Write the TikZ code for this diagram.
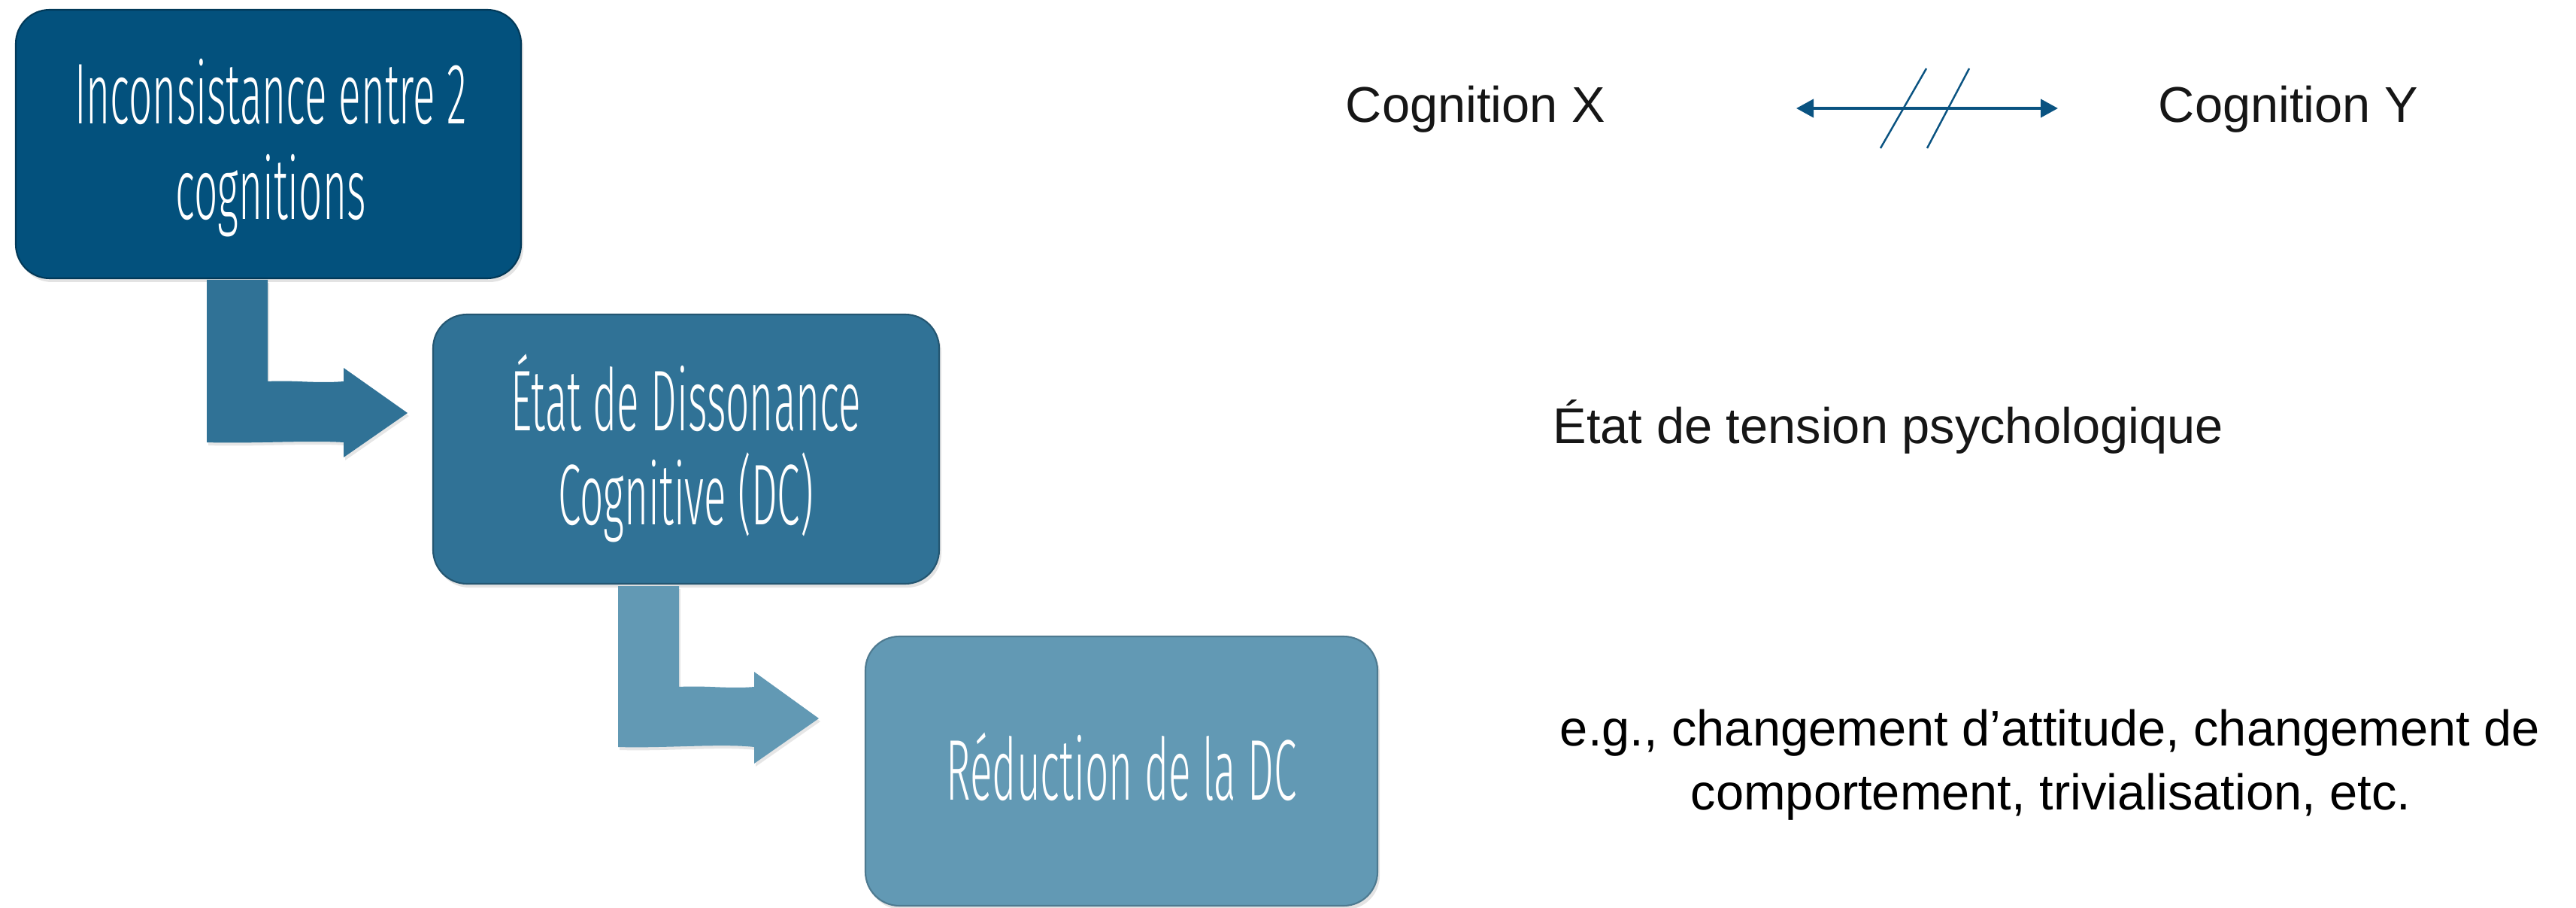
\documentclass[tikz,border=0pt]{standalone}
\usepackage{fontspec}
\setmainfont{Liberation Sans}
\newfontfamily\handfont[FakeStretch=0.48]{Fira Sans Light}
\usetikzlibrary{arrows.meta,shadows,calc}
\definecolor{cA}{HTML}{03517D}
\definecolor{cB}{HTML}{307296}
\definecolor{cC}{HTML}{6299B4}
\definecolor{linkblue}{HTML}{0A5381}
\definecolor{txt}{HTML}{161616}
\tikzset{
  stepbox/.style={rectangle, rounded corners=0.45cm, inner sep=0pt,
    line width=0.6pt, drop shadow={opacity=0.22, shadow xshift=0.03cm, shadow yshift=-0.05cm}},
  hand/.style={font=\handfont\fontsize{32.6}{40}\selectfont, text=white, inner sep=0pt, anchor=base},
  plain/.style={font=\fontsize{19}{23.75}\selectfont, text=txt, inner sep=0pt, anchor=base},
  slash/.style={draw=linkblue, line width=0.7pt}
}
\begin{document}
\begin{tikzpicture}
\useasboundingbox (0,0) rectangle (34.26,-12.07);

% boxes
\node[stepbox, fill=cA, draw=cA!70!black, minimum width=6.72cm, minimum height=3.57cm] (inc) at (3.57,-1.915) {};
\node[stepbox, fill=cB, draw=cB!75!black, minimum width=6.73cm, minimum height=3.58cm] (etat) at (9.125,-5.97) {};
\node[stepbox, fill=cC, draw=cC!80!black, minimum width=6.81cm, minimum height=3.58cm] (red) at (14.915,-10.25) {};

% box texts
\node[hand] (inc1) at (3.60,-1.65) {Inconsistance entre 2};
\node[hand] (inc2) at (3.60,-2.92) {cognitions};
\node[hand] (etat1) at (9.12,-5.73) {État de Dissonance};
\node[hand] (etat2) at (9.12,-6.97) {Cognitive (DC)};
\node[hand] (red1) at (14.915,-10.63) {Réduction de la DC};

% block arrows
\coordinate (tipA) at (5.42,-5.49);
\coordinate (tipB) at (10.89,-9.55);
\fill[cB, drop shadow={opacity=0.2, shadow xshift=0.02cm, shadow yshift=-0.04cm}]
  (2.75,-3.72) -- (3.56,-3.72) -- (3.56,-5.07)
  .. controls (3.9,-5.05) and (4.2,-5.1) .. (4.57,-5.07)
  -- (4.57,-4.89) -- (tipA) -- (4.57,-6.08) -- (4.57,-5.88)
  .. controls (4.1,-5.85) and (3.3,-5.9) .. (2.75,-5.88) -- cycle;
\fill[cC, drop shadow={opacity=0.2, shadow xshift=0.02cm, shadow yshift=-0.04cm}]
  (8.22,-7.79) -- (9.03,-7.79) -- (9.03,-9.13)
  .. controls (9.4,-9.11) and (9.7,-9.16) .. (10.03,-9.13)
  -- (10.03,-8.93) -- (tipB) -- (10.03,-10.15) -- (10.03,-9.93)
  .. controls (9.6,-9.88) and (8.8,-9.95) .. (8.22,-9.93) -- cycle;

% right side
\node[plain] (cx) at (19.625,-1.63) {Cognition X};
\node[plain] (cy) at (30.435,-1.63) {Cognition Y};
\coordinate (dl) at (23.89,-1.44);
\coordinate (dr) at (27.37,-1.44);
\draw[linkblue, line width=1.15pt, {Triangle[length=0.23cm,width=0.24cm]}-{Triangle[length=0.23cm,width=0.24cm]}] (dl) -- (dr);
\coordinate (s1a) at (25.01,-1.97);
\coordinate (s1b) at (25.62,-0.91);
\coordinate (s2a) at (25.63,-1.97);
\coordinate (s2b) at (26.19,-0.91);
\draw[slash] (s1a) -- (s1b);
\draw[slash] (s2a) -- (s2b);

\node[plain, anchor=base west] (tension) at (20.65,-5.89) {État de tension psychologique};
\node[plain, text=black] (eg1) at (27.265,-9.91) {e.g., changement d’attitude, changement de};
\node[plain, text=black] (eg2) at (27.275,-10.76) {comportement, trivialisation, etc.};
\end{tikzpicture}
\end{document}
